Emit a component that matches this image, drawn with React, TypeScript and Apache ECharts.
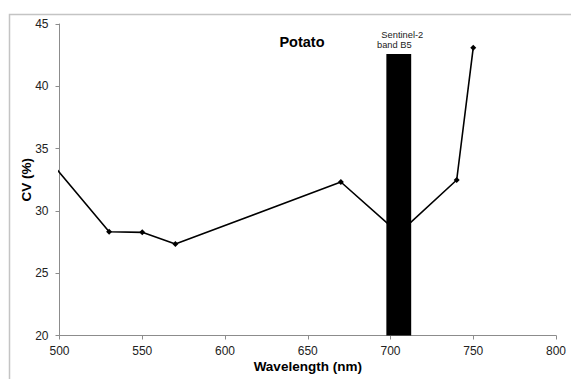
import React, { useEffect, useRef } from "react";
import * as echarts from "echarts";

const wavelengths = [490, 530, 550, 570, 670, 705, 740, 750];
const cvValues = [34.65, 28.33, 28.28, 27.34, 32.32, 28.2, 32.48, 43.1];
const band = [697.5, 712.5, 42.6]; // Sentinel-2 band B5: start, end, height
const bandLabel = ["Sentinel-2", "band B5"];
const xTicks = { min: 500, max: 800, interval: 50 };
const yTicks = { min: 20, max: 45, interval: 5 };

export default function App() {
  const ref = useRef<HTMLDivElement>(null);
  useEffect(() => {
    document.body.style.margin = "0";
    const chart = echarts.init(ref.current!, null, { renderer: "svg" });
    const font = "Liberation Sans, Arial, sans-serif";
    chart.setOption({
      animation: false,
      backgroundColor: "#ffffff",
      title: {
        text: "Potato",
        left: 297,
        top: 29,
        textAlign: "center",
        textStyle: { fontFamily: font, fontSize: 14.5, fontWeight: "bold", color: "#000" },
      },
      graphic: [
        {
          type: "rect",
          left: 7,
          top: 12,
          z: -10,
          shape: { width: 620, height: 420 },
          style: { fill: "none", stroke: "#c4c4c4", lineWidth: 1.5 },
        },
      ],
      grid: { left: 59.5, right: 15, top: 24, bottom: 43.5 },
      xAxis: {
        type: "value",
        min: xTicks.min,
        max: xTicks.max,
        interval: xTicks.interval,
        name: "Wavelength (nm)",
        nameLocation: "middle",
        nameGap: 24,
        nameMoveOverlap: false,
        nameTextStyle: { fontFamily: font, fontSize: 13.5, fontWeight: "bold", color: "#000" },
        axisLine: { lineStyle: { color: "#8c8c8c", width: 1 } },
        axisTick: { show: true, length: 4, lineStyle: { color: "#8c8c8c" } },
        axisLabel: { fontFamily: font, fontSize: 12, color: "#222", margin: 9 },
        splitLine: { show: false },
      },
      yAxis: {
        type: "value",
        min: yTicks.min,
        max: yTicks.max,
        interval: yTicks.interval,
        name: "CV (%)",
        nameLocation: "middle",
        nameGap: 26,
        nameMoveOverlap: false,
        nameRotate: 90,
        nameTextStyle: { fontFamily: font, fontSize: 13.5, fontWeight: "bold", color: "#000" },
        axisLine: { show: true, lineStyle: { color: "#8c8c8c", width: 1 } },
        axisTick: { show: true, length: 4, lineStyle: { color: "#8c8c8c" } },
        axisLabel: { fontFamily: font, fontSize: 12, color: "#222", margin: 11 },
        splitLine: { show: false },
      },
      series: [
        {
          type: "line",
          data: wavelengths.map((w, i) => [w, cvValues[i]]),
          clip: true,
          symbol: "diamond",
          symbolSize: 6,
          lineStyle: { color: "#000", width: 1.6 },
          itemStyle: { color: "#000" },
          z: 2,
        },
        {
          type: "custom",
          z: 5,
          clip: false,
          data: [band],
          encode: { x: [0, 1], y: 2 },
          renderItem: (params: any, api: any) => {
            const p0 = api.coord([api.value(0), api.value(2)]);
            const p1 = api.coord([api.value(1), yTicks.min]);
            return {
              type: "group",
              children: [
                {
                  type: "rect",
                  shape: { x: p0[0], y: p0[1], width: p1[0] - p0[0], height: p1[1] - p0[1] },
                  style: { fill: "#000" },
                },
                {
                  type: "text",
                  x: p0[0] - 5,
                  y: p0[1] - 19,
                  style: {
                    text: bandLabel[0],
                    fontFamily: font,
                    fontSize: 9.3,
                    fill: "#222",
                    verticalAlign: "middle",
                    align: "left",
                  },
                },
                {
                  type: "text",
                  x: p0[0] - 9.4,
                  y: p0[1] - 9,
                  style: {
                    text: bandLabel[1],
                    fontFamily: font,
                    fontSize: 9.3,
                    fill: "#222",
                    verticalAlign: "middle",
                    align: "left",
                  },
                },
              ],
            };
          },
        },
      ],
    });
    return () => chart.dispose();
  }, []);
  return <div ref={ref} style={{ width: 571, height: 379 }} />;
}
